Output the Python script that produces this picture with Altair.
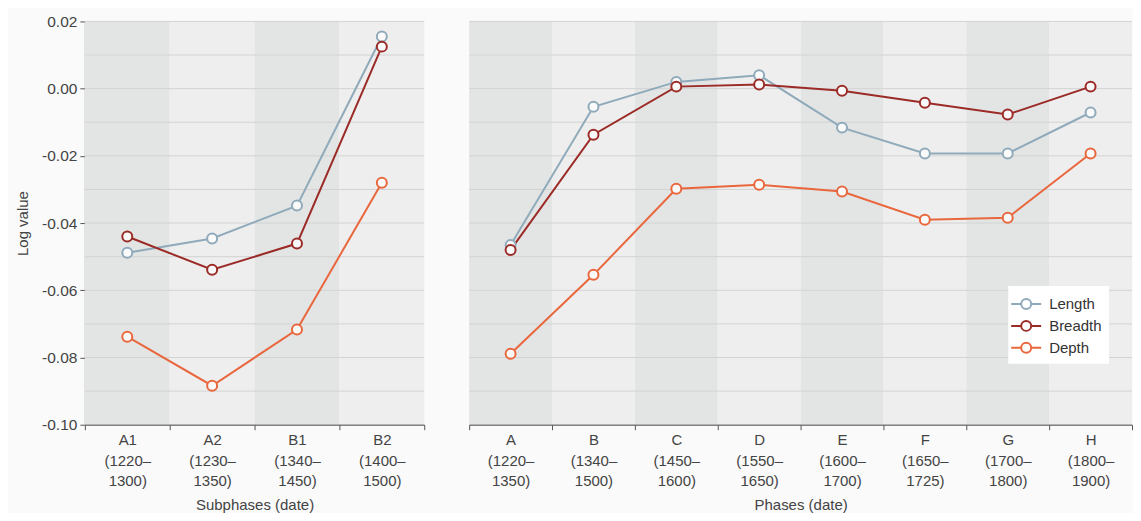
import altair as alt
import pandas as pd

# ---- data ----
series = ["Length", "Breadth", "Depth"]
series_colors = ["#8faaba", "#9b2b27", "#e9673d"]

sub_labels = ["A1|(1220–|1300)", "A2|(1230–|1350)", "B1|(1340–|1450)", "B2|(1400–|1500)"]
sub_shades = ["#e3e5e5", "#eeeeee", "#e3e5e5", "#eeeeee"]
length_sub = [-0.0488, -0.0446, -0.0348, 0.0155]
breadth_sub = [-0.0440, -0.0539, -0.0461, 0.0125]
depth_sub = [-0.0738, -0.0884, -0.0717, -0.0280]

phase_labels = ["A|(1220–|1350)", "B|(1340–|1500)", "C|(1450–|1600)", "D|(1550–|1650)",
                "E|(1600–|1700)", "F|(1650–|1725)", "G|(1700–|1800)", "H|(1800–|1900)"]
phase_shades = ["#e3e5e5", "#eeeeee", "#e3e5e5", "#eeeeee", "#e3e5e5", "#eeeeee", "#e3e5e5", "#eeeeee"]
length_ph = [-0.0465, -0.0054, 0.0020, 0.0040, -0.0116, -0.0193, -0.0193, -0.0071]
breadth_ph = [-0.0480, -0.0137, 0.0006, 0.0012, -0.0006, -0.0042, -0.0077, 0.0006]
depth_ph = [-0.0789, -0.0554, -0.0298, -0.0286, -0.0306, -0.0390, -0.0384, -0.0193]

grid_values = [0.02, 0.01, 0.0, -0.01, -0.02, -0.03, -0.04, -0.05, -0.06, -0.07, -0.08, -0.09, -0.10]
y_domain = [-0.10, 0.02]

FONT = "Liberation Sans"
TEXT = "#444444"
AXIS = "#555555"
H = 404


def long_df(labels, vals):
    rows = []
    for s, v in zip(series, vals):
        for c, y in zip(labels, v):
            rows.append({"cat": c, "series": s, "value": y})
    return pd.DataFrame(rows)


def panel(labels, shades, vals, width, xtitle, show_y, legend):
    yscale = alt.Scale(domain=y_domain, nice=False, zero=False)
    xscale = alt.Scale(domain=labels, paddingInner=0, paddingOuter=0)
    xaxis = alt.Axis(title=xtitle, labelExpr="split(datum.label, '|')", labelAngle=0,
                     tickBand="extent", labelFontSize=15, labelLineHeight=20.5,
                     labelPadding=3, tickSize=5, domainColor=AXIS, tickColor=AXIS,
                     labelColor=TEXT, titleColor=TEXT, titleFontSize=15, titlePadding=9,
                     titleFontWeight="normal", labelFont=FONT, titleFont=FONT, grid=False)
    band_df = pd.DataFrame({"cat": labels, "shade": shades,
                            "top": [y_domain[1]] * len(labels),
                            "bottom": [y_domain[0]] * len(labels)})
    if show_y:
        yaxis = alt.Axis(title="Log value", values=grid_values, grid=False,
                         labelExpr="round(datum.value*100) % 2 == 0 ? (datum.value < -0.0001 ? '-' : '') + format(abs(datum.value), '.2f') : ''",
                         labelFontSize=15.5, labelColor=TEXT, titleColor=TEXT, titleFontSize=15,
                         titleFontWeight="normal", titlePadding=11, tickSize=5, labelPadding=3,
                         domainColor=AXIS, tickColor=AXIS, labelFont=FONT, titleFont=FONT)
    else:
        yaxis = None
    bands = alt.Chart(band_df).mark_rect().encode(
        x=alt.X("cat:N", scale=xscale, sort=labels, axis=xaxis),
        y=alt.Y("top:Q", scale=yscale, axis=yaxis),
        y2="bottom:Q",
        fill=alt.Fill("shade:N", scale=None),
    )
    grid = alt.Chart(pd.DataFrame({"v": grid_values})).mark_rule(color="#d3d3d3", strokeWidth=1).encode(
        y=alt.Y("v:Q", scale=yscale)
    )
    df = long_df(labels, vals)
    cscale = alt.Scale(domain=series, range=series_colors)
    if legend:
        leg = alt.Legend(title=None, orient="none", legendX=540, legendY=265,
                         fillColor="white", padding=7, labelFontSize=15, labelColor="#333333",
                         labelFont=FONT, symbolType="M-1.5,0H-0.5M0.5,0H1.5M-0.5,0A0.5,0.5 0 1,1 0.5,0A0.5,0.5 0 1,1 -0.5,0",
                         symbolSize=400, symbolStrokeWidth=2, symbolFillColor="white",
                         labelOffset=12, rowPadding=2)
    else:
        leg = None
    lines = alt.Chart(df).mark_line(strokeWidth=2).encode(
        x=alt.X("cat:N", scale=xscale, sort=labels),
        y=alt.Y("value:Q", scale=yscale),
        color=alt.Color("series:N", scale=cscale, legend=leg),
    )
    pts = alt.Chart(df).mark_point(shape="circle", size=100, filled=True, fill="#fafafa",
                                   strokeWidth=2, opacity=1).encode(
        x=alt.X("cat:N", scale=xscale, sort=labels),
        y=alt.Y("value:Q", scale=yscale),
        stroke=alt.Stroke("series:N", scale=cscale, legend=None),
    )
    return alt.layer(bands, grid, lines, pts).properties(width=width, height=H)


left = panel(sub_labels, sub_shades, [length_sub, breadth_sub, depth_sub], 340,
             "Subphases (date)", True, False)
right = panel(phase_labels, phase_shades, [length_ph, breadth_ph, depth_ph], 664,
              "Phases (date)", False, True)

chart = alt.hconcat(left, right, spacing=43).resolve_scale(
    color="independent", stroke="independent"
).resolve_legend(color="independent", stroke="independent").properties(
    padding={"left": 7, "top": 6, "right": 0, "bottom": 0},
    background="#fafafa",
).configure_view(stroke=None)

chart.save("out.html", embed_options={"renderer": "svg", "actions": False})
